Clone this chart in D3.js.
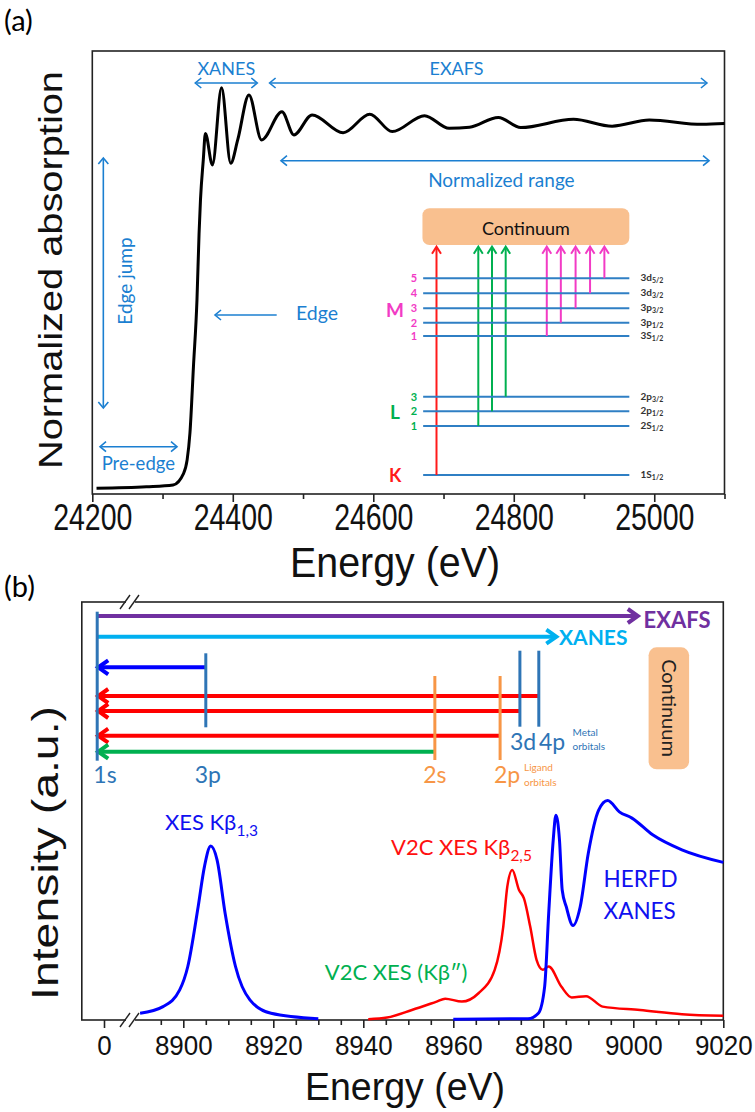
<!DOCTYPE html>
<html><head><meta charset="utf-8">
<script src="https://cdn.jsdelivr.net/npm/d3@7"></script>
<style>body{margin:0;background:#fff}svg{display:block}</style>
</head><body>
<svg id="c" width="755" height="1112"></svg>
<script>
// ---------- DATA ----------
// Panel (a): XAS spectrum
const xasEnergy = [24206,24277,24315,24330,24335,24339,24344,24349,24352,24354,24358,24361,24371,24384,24397,24407,24423,24441,24470,24487,24513,24557,24595,24627,24673,24708,24737,24778,24810,24885,24940,24993,25068,25100];
const xasAbs    = [-0.004,0.0,0.005,0.037,0.074,0.148,0.331,0.514,0.698,0.79,0.90,0.973,0.886,1.099,0.891,0.955,1.079,0.955,1.033,0.969,1.024,0.975,1.026,0.978,1.022,0.987,0.99,1.017,0.989,1.012,0.993,1.01,0.998,1.0];
const xTicksA = [24200,24400,24600,24800,25000];
const xMinorA = [24300,24500,24700,24900,25100];
// inset energy-level diagram
const levelNames = ["1S","2S","2p","2p","3S","3p","3p","3d","3d"];
const levelSubs  = ["1/2","1/2","1/2","3/2","1/2","1/2","3/2","3/2","5/2"];
const levelShell = ["K","L","L","L","M","M","M","M","M"];
const levelNum   = ["","1","2","3","1","2","3","4","5"];
const levelPos   = [0,49,63.7,78.3,139,152.3,166.7,181.7,196.7];
const transE     = [24690,24749.5,24769,24788.5,24847,24867,24888,24908.6,24929];
// Panel (b)
const kb13E = [8890.4,8895.5,8899.2,8901,8903.3,8904.7,8906.1,8907.5,8909.3,8911.6,8914.8,8919.5,8930];
const kb13I = [0.016,0.032,0.072,0.128,0.271,0.367,0.416,0.383,0.255,0.128,0.048,0.016,0.003];
const v2cE = [8941.1,8945.3,8950.8,8956.3,8958.2,8961.9,8965.6,8969.2,8971.1,8972,8973.1,8974.6,8975.7,8977.1,8978.5,8979.9,8981.2,8984,8986.3,8989.5,8993.2,9001.5,9010.8,9020];
const v2cI = [0.002,0.006,0.024,0.044,0.051,0.044,0.064,0.12,0.223,0.319,0.359,0.311,0.291,0.223,0.144,0.12,0.128,0.08,0.054,0.057,0.032,0.024,0.014,0.01];
const herfdE = [8960,8976.6,8978.9,8980.3,8981.2,8982.2,8982.8,8983.6,8984.2,8985.1,8986.6,8988.2,8990,8992.3,8994.3,8996.9,8999.7,9004.3,9010.8,9020];
const herfdI = [0.002,0.003,0.016,0.08,0.255,0.43,0.49,0.43,0.311,0.271,0.226,0.271,0.399,0.502,0.525,0.498,0.483,0.443,0.407,0.377];
const xTicksB = [0,8900,8920,8940,8960,8980,9000,9020];
const xMinorB = d3.range(8895,9020,5).filter(v=>v%20!==0);
// schematic orbital energies (b)
const orbE = {s1:-1.5, p3:8905, s2:8955.9, p2:8970.4, d3:8974.8, p4:8979};

// ---------- SETUP ----------
const svg = d3.select("#c");
const ARIAL = "'Liberation Sans', Arial, sans-serif";
const CAL = "Lato, 'Open Sans', sans-serif";
const BLUE_A = "#1b7fd1", LEV = "#2f7fc4", MAG = "#f23bc5", GRN = "#00b050", RED = "#ff1a1a";
const STEEL = "#2e75b6", ORG = "#f79646";

function head(g,tx,ty,fx,fy,c,w,L,Hh){
  const dx=tx-fx,dy=ty-fy,l=Math.hypot(dx,dy),ux=dx/l,uy=dy/l,px=-uy,py=ux;
  g.append("path").attr("d",`M${tx-ux*L+px*Hh},${ty-uy*L+py*Hh}L${tx},${ty}L${tx-ux*L-px*Hh},${ty-uy*L-py*Hh}`)
   .attr("fill","none").attr("stroke",c).attr("stroke-width",w).attr("stroke-linejoin","miter").attr("stroke-linecap","butt");
}
function arrow(g,x1,y1,x2,y2,c,w,L,Hh,both){
  const dx=x2-x1,dy=y2-y1,l=Math.hypot(dx,dy),ux=dx/l,uy=dy/l,tr=w*0.7;
  g.append("line").attr("x1",both?x1+ux*tr:x1).attr("y1",both?y1+uy*tr:y1).attr("x2",x2-ux*tr).attr("y2",y2-uy*tr)
   .attr("stroke",c).attr("stroke-width",w);
  head(g,x2,y2,x1,y1,c,w,L,Hh);
  if(both) head(g,x1,y1,x2,y2,c,w,L,Hh);
}
function txt(g,x,y,s,o){
  const t=g.append("text").attr("x",x).attr("y",y).text(s)
    .attr("font-family",o.f||CAL).attr("font-size",o.s).attr("fill",o.c||"#000")
    .attr("text-anchor",o.a||"start").attr("font-weight",o.w||"normal");
  if(o.tl) t.attr("textLength",o.tl).attr("lengthAdjust","spacingAndGlyphs");
  return t;
}
function subTxt(g,x,y,main,sub,o){
  const t=g.append("text").attr("x",x).attr("y",y)
    .attr("font-family",o.f||CAL).attr("font-size",o.s).attr("fill",o.c||"#000")
    .attr("text-anchor",o.a||"start").attr("font-weight",o.w||"normal");
  t.append("tspan").text(main);
  t.append("tspan").text(sub).attr("font-size",o.ss).attr("dy",o.sd);
  return t;
}

// ---------- PANEL A ----------
const xA = d3.scaleLinear().domain([24200,25100]).range([92.3,724.5]);
const yA = d3.scaleLinear().domain([-0.02,1.2]).range([494,51]);
const gA = svg.append("g");
txt(gA,4,31,"(a)",{s:29});
gA.append("rect").attr("x",xA(24200)).attr("y",yA(1.2)).attr("width",xA(25100)-xA(24200))
  .attr("height",yA(-0.02)-yA(1.2)).attr("fill","none").attr("stroke","#222").attr("stroke-width",1.6);
const axA = gA.append("g").attr("transform",`translate(0,${yA(-0.02)})`)
  .call(d3.axisBottom(xA).tickValues(xTicksA).tickSize(8).tickFormat(d3.format("d")));
axA.select(".domain").remove();
axA.selectAll("line").attr("stroke","#222").attr("stroke-width",1.6);
axA.selectAll("text").attr("font-family",ARIAL).attr("font-size",28.5).attr("fill","#111")
  .attr("y",27.5).attr("dy",0).attr("transform","scale(1,1.31)");
const axAm = gA.append("g").attr("transform",`translate(0,${yA(-0.02)})`)
  .call(d3.axisBottom(xA).tickValues(xMinorA).tickSize(5).tickFormat(""));
axAm.select(".domain").remove();
axAm.selectAll("line").attr("stroke","#222").attr("stroke-width",1.6);
// axis titles
gA.append("text").attr("transform","translate(395,577) scale(1,1.2)").attr("text-anchor","middle")
  .attr("font-family",ARIAL).attr("font-size",36).attr("fill","#111").text("Energy (eV)")
  .attr("textLength",210).attr("lengthAdjust","spacingAndGlyphs");
gA.append("text").attr("transform","translate(62,270) rotate(-90)").attr("text-anchor","middle")
  .attr("font-family",ARIAL).attr("font-size",33).attr("fill","#111").text("Normalized absorption")
  .attr("textLength",398).attr("lengthAdjust","spacingAndGlyphs");

// spectrum
const lineA = d3.line().x((d,i)=>xA(xasEnergy[i])).y(d=>yA(d)).curve(d3.curveMonotoneX);
gA.append("path").attr("d",lineA(xasAbs)).attr("fill","none").attr("stroke","#000").attr("stroke-width",3);

// annotations
const aw=1.6, aL=6, aH=5;
arrow(gA,xA(24346.6),83,xA(24434.9),83,BLUE_A,aw,aL,aH,true);
txt(gA,(xA(24346.6)+xA(24434.9))/2,75,"XANES",{s:18,c:BLUE_A,a:"middle"});
arrow(gA,xA(24452.4),83,xA(25075),83,BLUE_A,aw,aL,aH,true);
txt(gA,456.5,75,"EXAFS",{s:18,c:BLUE_A,a:"middle"});
arrow(gA,xA(24468.6),160.7,xA(25078),160.7,BLUE_A,aw,aL,aH,true);
txt(gA,501.4,187,"Normalized range",{s:19,c:BLUE_A,a:"middle"});
arrow(gA,xA(24215.7),158,xA(24215.7),408,BLUE_A,aw,aL,aH,true);
gA.append("text").attr("transform","translate(132,281) rotate(-90)").attr("text-anchor","middle")
  .attr("font-family",CAL).attr("font-size",19).attr("fill",BLUE_A).text("Edge jump");
arrow(gA,xA(24462.5),315,xA(24374.7),315,BLUE_A,aw,aL,aH,false);
txt(gA,296,320,"Edge",{s:19.5,c:BLUE_A});
arrow(gA,xA(24211),446.7,xA(24320.6),446.7,BLUE_A,aw,aL,aH,true);
txt(gA,101.7,470,"Pre-edge",{s:18.5,c:BLUE_A});

// inset
const yL = d3.scaleLinear().domain([0,230]).range([475,245]);
gA.append("rect").attr("x",xA(24670)).attr("y",yL(266.7)).attr("width",xA(24964.5)-xA(24670))
  .attr("height",yL(230)-yL(266.7)).attr("rx",7).attr("fill","#f9c08f");
txt(gA,(xA(24670)+xA(24964.5))/2,234.5,"Continuum",{s:18,a:"middle",c:"#111"});
levelPos.forEach((p,i)=>{
  gA.append("line").attr("x1",xA(24671)).attr("x2",xA(24964.5)).attr("y1",yL(p)).attr("y2",yL(p))
    .attr("stroke",LEV).attr("stroke-width",2);
  subTxt(gA,xA(24980.5),yL(p)+3,levelNames[i],levelSubs[i],{s:10,ss:7,sd:2,w:"bold",c:"#333"});
  const col = levelShell[i]==="M"?MAG:levelShell[i]==="L"?GRN:RED;
  if(levelNum[i]) txt(gA,xA(24658),yL(p)+4,levelNum[i],{s:11,a:"middle",c:col,w:"bold"});
  const tx = transE[i];
  arrow(gA,xA(tx),yL(p),xA(tx),yL(228.3),col,2,7,4.5,false);
});
txt(gA,xA(24631),317,"M",{s:19,a:"middle",c:MAG,w:"bold"});
txt(gA,xA(24631),418.5,"L",{s:19,a:"middle",c:GRN,w:"bold"});
txt(gA,xA(24631),482,"K",{s:18,a:"middle",c:RED,w:"bold"});

// ---------- PANEL B ----------
const xB = d3.scaleLinear().domain([-4.9,0,8886,9020]).range([81.8,104,120.3,723.3]);
const yB = d3.scaleLinear().domain([0,1]).range([1020,602]);
const gB = svg.append("g");
txt(gB,4,597,"(b)",{s:29});
gB.append("rect").attr("x",xB(-4.9)).attr("y",yB(1)).attr("width",xB(9020)-xB(-4.9))
  .attr("height",yB(0)-yB(1)).attr("fill","none").attr("stroke","#222").attr("stroke-width",1.6);
const axB = gB.append("g").attr("transform",`translate(0,${yB(0)})`)
  .call(d3.axisBottom(xB).tickValues(xTicksB).tickSize(8).tickFormat(d3.format("d")));
axB.select(".domain").remove();
axB.selectAll("line").attr("stroke","#222").attr("stroke-width",1.6);
axB.selectAll("text").attr("font-family",ARIAL).attr("font-size",26).attr("fill","#111")
  .attr("y",32).attr("dy",0).attr("transform","scale(1,1.09)");
const axBm = gB.append("g").attr("transform",`translate(0,${yB(0)})`)
  .call(d3.axisBottom(xB).tickValues(xMinorB).tickSize(5).tickFormat(""));
axBm.select(".domain").remove();
axBm.selectAll("line").attr("stroke","#222").attr("stroke-width",1.6);
// break marks
[[yB(0)],[yB(1)]].forEach(([y])=>{
  gB.append("rect").attr("x",126).attr("y",y-2).attr("width",9).attr("height",4).attr("fill","#fff");
  [125,134].forEach(cx=>gB.append("line").attr("x1",cx-5).attr("y1",y+7).attr("x2",cx+5).attr("y2",y-7)
    .attr("stroke","#222").attr("stroke-width",1.4));
});
gB.append("text").attr("transform","translate(405,1100) scale(1,1.1)").attr("text-anchor","middle")
  .attr("font-family",ARIAL).attr("font-size",36).attr("fill","#111").text("Energy (eV)")
  .attr("textLength",200).attr("lengthAdjust","spacingAndGlyphs");
gB.append("text").attr("transform","translate(58,853) rotate(-90)").attr("text-anchor","middle")
  .attr("font-family",ARIAL).attr("font-size",37).attr("fill","#111").text("Intensity (a.u.)")
  .attr("textLength",294).attr("lengthAdjust","spacingAndGlyphs");

// curves
const mk=(E)=>d3.line().x((d,i)=>xB(E[i])).y(d=>yB(d)).curve(d3.curveMonotoneX);
gB.append("path").attr("d",mk(kb13E)(kb13I)).attr("fill","none").attr("stroke","#0000ff").attr("stroke-width",3);
gB.append("path").attr("d",mk(v2cE)(v2cI)).attr("fill","none").attr("stroke","#ff0000").attr("stroke-width",2.5);
gB.append("path").attr("d",mk(herfdE)(herfdI)).attr("fill","none").attr("stroke","#0000ff").attr("stroke-width",3);

subTxt(gB,165,830,"XES Kβ","1,3",{s:22,ss:15.5,sd:6,c:"#1010f0"});
subTxt(gB,391,855,"V2C XES Kβ","2,5",{s:22,ss:15.5,sd:6,c:"#ff1010"});
txt(gB,603.6,887,"HERFD",{s:22.5,c:"#1010f0"});
txt(gB,603.6,918.5,"XANES",{s:22.5,c:"#1010f0"});
txt(gB,324.8,980,"V2C XES (Kβ″)",{s:22,c:"#00b050"});

// schematic
const bw=4, bL=10, bH=7;
const x1s=xB(orbE.s1);
arrow(gB,x1s,616,xB(9001),616,"#7030a0",bw,bL,bH,false);
txt(gB,643.5,628,"EXAFS",{s:22,w:"bold",c:"#7030a0"});
arrow(gB,x1s,636.7,xB(8982.9),636.7,"#00b0f0",bw,bL,bH,false);
txt(gB,559,645,"XANES",{s:21,w:"bold",c:"#00b0f0"});
gB.append("rect").attr("x",xB(9003.4)).attr("y",647.3).attr("width",xB(9012.4)-xB(9003.4)).attr("height",122)
  .attr("rx",8).attr("fill","#f9c08f");
gB.append("text").attr("transform",`translate(${(xB(9003.4)+xB(9012.4))/2-7},708) rotate(90)`).attr("text-anchor","middle")
  .attr("font-family",CAL).attr("font-size",20).attr("fill","#222").text("Continuum");
// vertical orbital lines
const vline=(x,y1,y2,c)=>gB.append("line").attr("x1",x).attr("x2",x).attr("y1",y1).attr("y2",y2).attr("stroke",c).attr("stroke-width",3);
arrow(gB,xB(orbE.p3),667.3,x1s+1,667.3,"#0000ff",bw,bL,bH,false);
arrow(gB,xB(orbE.p4),696,x1s+1,696,"#ff0000",bw,bL,bH,false);
arrow(gB,xB(orbE.d3),711,x1s+1,711,"#ff0000",bw,bL,bH,false);
arrow(gB,xB(orbE.p2),735.7,x1s+1,735.7,"#ff0000",bw,bL,bH,false);
arrow(gB,xB(orbE.s2),751.7,x1s+1,751.7,"#00b050",bw,bL,bH,false);
vline(x1s,611.7,760.7,STEEL);
vline(xB(orbE.p3),653.3,727.3,STEEL);
vline(xB(orbE.d3),650.7,726.7,STEEL);
vline(xB(orbE.p4),650.7,726.7,STEEL);
vline(xB(orbE.s2),676,760,ORG);
vline(xB(orbE.p2),676,760,ORG);
txt(gB,105,783,"1s",{s:23,a:"middle",c:STEEL});
txt(gB,207.8,783,"3p",{s:23,a:"middle",c:STEEL});
txt(gB,434.8,783,"2s",{s:23,a:"middle",c:ORG});
txt(gB,507,783,"2p",{s:23,a:"middle",c:ORG});
txt(gB,524,771,"Ligand",{s:10,c:ORG});
txt(gB,524,786,"orbitals",{s:10,c:ORG});
txt(gB,523,750,"3d",{s:23,a:"middle",c:STEEL});
txt(gB,552,750,"4p",{s:23,a:"middle",c:STEEL});
txt(gB,572.5,736,"Metal",{s:10,c:STEEL});
txt(gB,572.5,750,"orbitals",{s:10,c:STEEL});
</script>
</body></html>
